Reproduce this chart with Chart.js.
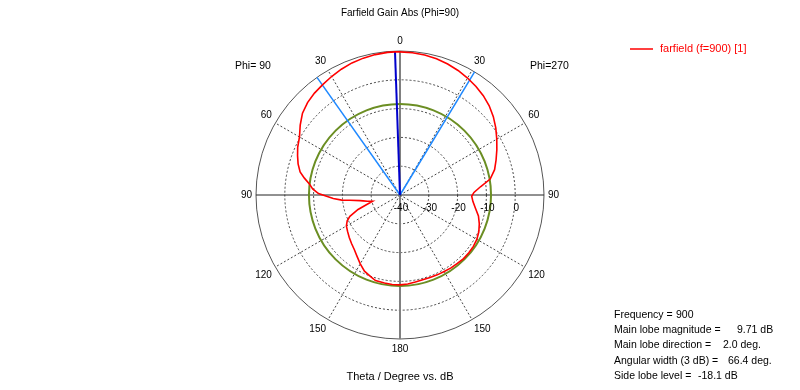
<!DOCTYPE html>
<html>
<head>
<meta charset="utf-8">
<title>Farfield Gain Abs (Phi=90)</title>
<script src="https://cdn.jsdelivr.net/npm/chart.js@4/dist/chart.umd.min.js"></script>
<style>
  html, body { margin: 0; padding: 0; background: #fff; }
  #wrap { width: 800px; height: 390px; }
</style>
</head>
<body>
<div id="wrap"><canvas id="farfield"></canvas></div>
<script>
// Farfield cut.
// Angle runs clockwise from the top: 0..180 is the Phi=270 half,
// 180..360 is the Phi=90 half (theta = 360 - angle there).
const angles = [
  0, 5, 10, 15, 20, 25, 30, 35, 40, 45, 50, 55, 60, 65, 70, 75, 80, 84, 88,
  91, 95, 100, 105, 110, 115, 120, 125, 130, 135, 140, 145, 150, 155, 160,
  165, 170, 175, 180, 185, 190, 196, 200, 205, 210, 215, 220, 225, 230, 235,
  240, 244, 247, 251, 254, 257, 259, 261, 262, 264, 265, 267, 269, 271, 274,
  277, 280, 283, 287, 291, 295, 300, 305, 310, 315, 320, 325, 330, 335, 340,
  345, 350, 355, 358
];
const gainDb = [
  9.7, 9.6, 9.35, 9.0, 8.4, 7.7, 6.9, 6.0, 5.0, 3.8, 2.3, 0.6, -1.2, -2.9, -4.5, -6.0, -8.2, -11.8, -14.3,
  -15.1, -14.6, -13.4, -11.8, -10.7, -9.8, -9.2, -8.9, -8.8, -8.8, -9.0, -9.1, -9.3, -9.4, -9.5,
  -9.5, -9.3, -9.0, -8.8, -8.8, -9.0, -9.1, -9.9, -10.8, -12.4, -14.0, -15.3, -16.2, -17.0, -17.8,
  -18.5, -19.6, -21.1, -24.6, -28.0, -30.2, -28.5, -27.0, -26.0, -22.5, -19.7, -16.8, -14.5, -11.7, -9.6,
  -8.3, -6.3, -4.4, -3.0, -1.9, -0.8, 0.3, 2.3, 4.2, 5.4, 6.2, 6.8, 7.5, 8.2, 8.8,
  9.2, 9.5, 9.7, 9.71
];

const dbTicks = [-40, -30, -20, -10, 0];
const thetaTicks = [0, 30, 60, 90, 120, 150, 180];

const mainLobeMag = 9.71;    // dB
const mainLobeDir = 2.0;     // deg, on the Phi=90 side
const angularWidth = 66.4;   // deg, 3 dB
const sideLobeLevel = -18.1; // dB relative to main lobe

const statLabels = ['Frequency =', 'Main lobe magnitude =', 'Main lobe direction =', 'Angular width (3 dB) =', 'Side lobe level ='];
const statValues = ['900', '9.71 dB', '2.0 deg.', '66.4 deg.', '-18.1 dB'];

// one radar slot per degree, gaps spanned
const degrees = Array.from({ length: 360 }, (_, i) => i);
const pattern = degrees.map(() => null);
angles.forEach((a, i) => { pattern[a] = gainDb[i]; });

const FONT = '"Liberation Sans", Arial, sans-serif';
Chart.defaults.font.family = FONT;
Chart.defaults.color = '#000';

const extras = {
  id: 'extras',
  beforeDatasetsDraw(chart) {
    const r = chart.scales.r;
    const ctx = chart.ctx;
    ctx.save();
    // side lobe level circle
    ctx.strokeStyle = '#6b8e23';
    ctx.lineWidth = 2;
    ctx.beginPath();
    ctx.arc(r.xCenter, r.yCenter, r.getDistanceFromCenterForValue(mainLobeMag + sideLobeLevel), 0, Math.PI * 2);
    ctx.stroke();
    // beam width and main lobe direction
    const spoke = (deg, color, width) => {
      const p = r.getPointPositionForValue(deg, r.max);
      ctx.strokeStyle = color;
      ctx.lineWidth = width;
      ctx.beginPath();
      ctx.moveTo(r.xCenter, r.yCenter);
      ctx.lineTo(p.x, p.y);
      ctx.stroke();
    };
    spoke(360 - (mainLobeDir + angularWidth / 2), '#1e88ff', 1.5);
    spoke(angularWidth / 2 - mainLobeDir, '#1e88ff', 1.5);
    spoke(360 - mainLobeDir, '#0000cc', 2);
    ctx.restore();
  },
  afterDraw(chart) {
    const r = chart.scales.r;
    const ctx = chart.ctx;
    ctx.save();
    ctx.textBaseline = 'middle';
    ctx.fillStyle = '#000';

    // dB ticks along the horizontal axis
    ctx.font = '10px ' + FONT;
    ctx.textAlign = 'center';
    dbTicks.forEach(v => {
      ctx.fillText(String(v), r.xCenter + r.getDistanceFromCenterForValue(v) + 1, r.yCenter + 13);
    });

    ctx.font = '10.5px ' + FONT;
    ctx.textAlign = 'left';
    ctx.fillText('Phi= 90', 235, 66);
    ctx.fillText('Phi=270', 530, 66);

    // legend
    ctx.strokeStyle = '#ff0000';
    ctx.lineWidth = 1.5;
    ctx.beginPath();
    ctx.moveTo(630, 49);
    ctx.lineTo(653, 49);
    ctx.stroke();
    ctx.fillStyle = '#ff0000';
    ctx.font = '11px ' + FONT;
    ctx.fillText(chart.data.datasets[0].label, 660, 49);

    // stats block
    ctx.fillStyle = '#000';
    ctx.font = '10.5px ' + FONT;
    const valueX = [676, 737, 723, 728, 698];
    statLabels.forEach((s, i) => {
      const y = 315 + i * 15.3;
      ctx.fillText(s, 614, y);
      ctx.fillText(statValues[i], valueX[i], y);
    });
    ctx.restore();
  }
};

new Chart(document.getElementById('farfield'), {
  type: 'radar',
  data: {
    labels: degrees,
    datasets: [{
      label: 'farfield (f=900) [1]',
      data: pattern,
      spanGaps: true,
      borderColor: '#ff0000',
      borderWidth: 1.6,
      pointRadius: 0,
      fill: false,
      tension: 0
    }]
  },
  options: {
    responsive: true,
    maintainAspectRatio: false,
    animation: false,
    layout: { padding: 0 },
    plugins: {
      legend: { display: false },
      tooltip: { enabled: false },
      title: {
        display: true,
        text: 'Farfield Gain Abs (Phi=90)',
        color: '#000',
        font: { size: 10, weight: 'normal' },
        padding: { top: 7, bottom: 16 }
      },
      subtitle: {
        display: true,
        position: 'bottom',
        text: 'Theta / Degree vs. dB',
        color: '#000',
        font: { size: 11, weight: 'normal' },
        padding: { top: 15.5, bottom: 6.3 }
      }
    },
    scales: {
      r: {
        min: -40,
        max: 10,
        ticks: { stepSize: 10, display: false },
        grid: {
          circular: true,
          color: ctx => ctx.tick.value === -40 ? 'rgba(0,0,0,0)' : (ctx.tick.value === 10 ? '#555' : '#444'),
          lineWidth: 1
        },
        border: {
          dash: ctx => ctx.tick.value === 10 ? [] : [2, 2]
        },
        angleLines: {
          color: ctx => {
            const i = ctx.index;
            if (i === 0 || i === 180) return '#808080';
            if (i === 90 || i === 270) return '#222';
            return '#444';
          },
          lineWidth: ctx => {
            const i = ctx.index;
            if (i % 30 !== 0) return 0;
            return (i === 0 || i === 180) ? 2 : 1;
          },
          borderDash: ctx => (ctx.index % 90 === 0) ? [] : [2, 2]
        },
        pointLabels: {
          padding: 4,
          color: '#000',
          font: { size: 10 },
          callback: (value, index) => {
            const theta = index <= 180 ? index : 360 - index;
            return thetaTicks.includes(theta) ? String(theta) : '';
          }
        }
      }
    }
  },
  plugins: [extras]
});
</script>
</body>
</html>
